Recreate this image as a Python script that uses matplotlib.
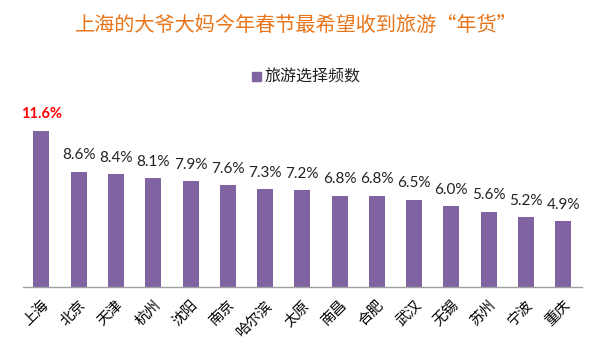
import matplotlib
matplotlib.use('Agg')
import matplotlib.pyplot as plt
from matplotlib.patches import Rectangle

plt.rcParams['font.family'] = ['Noto Sans CJK SC', 'DejaVu Sans']

cities = ['上海', '北京', '天津', '杭州', '沈阳', '南京', '哈尔滨', '太原',
          '南昌', '合肥', '武汉', '无锡', '苏州', '宁波', '重庆']
shares = [11.6, 8.6, 8.4, 8.1, 7.9, 7.6, 7.3, 7.2, 6.8, 6.8, 6.5, 6.0, 5.6, 5.2, 4.9]
series_name = '旅游选择频数'
title = '上海的大爷大妈今年春节最希望收到旅游“年货”'

BAR = '#8064A2'

fig = plt.figure(figsize=(6.01, 3.6), dpi=100)
ax = fig.add_axes([0.038, 0.203, 0.93, 0.533])

x = list(range(len(cities)))
ax.bar(x, shares, width=0.43, color=BAR)
ax.set_xlim(-0.5, len(cities) - 0.5)
ax.set_ylim(0, 14.3)

for i, v in zip(x, shares):
    if i == 0:
        ax.text(i, v + 0.75, f'{v:.1f}%', ha='center', va='bottom',
                fontsize=10.5, color='#FF0000', fontweight='bold', family='Lato')
    else:
        ax.text(i, v + 0.7, f'{v:.1f}%', ha='center', va='bottom',
                fontsize=11, color='#222222', family='Lato')

for s in ['top', 'right', 'left']:
    ax.spines[s].set_visible(False)
ax.spines['bottom'].set_color('#A0A0A0')
ax.spines['bottom'].set_linewidth(1.0)
ax.set_yticks([])
ax.set_xticks(x)
ax.set_xticklabels(cities, rotation=45, ha='right', rotation_mode='anchor',
                   fontsize=10.5)
ax.tick_params(axis='x', length=0, pad=8)

fig.text(0.493, 0.93, title, ha='center', va='center', fontsize=14.5,
         color='#E8751A')

# legend
fig.patches.append(Rectangle((0.42, 0.775), 0.014, 0.024, color=BAR,
                             transform=fig.transFigure, figure=fig))
fig.text(0.44, 0.787, series_name, ha='left', va='center', fontsize=11.5,
         color='#222222')

fig.savefig('out.png', dpi=100)
